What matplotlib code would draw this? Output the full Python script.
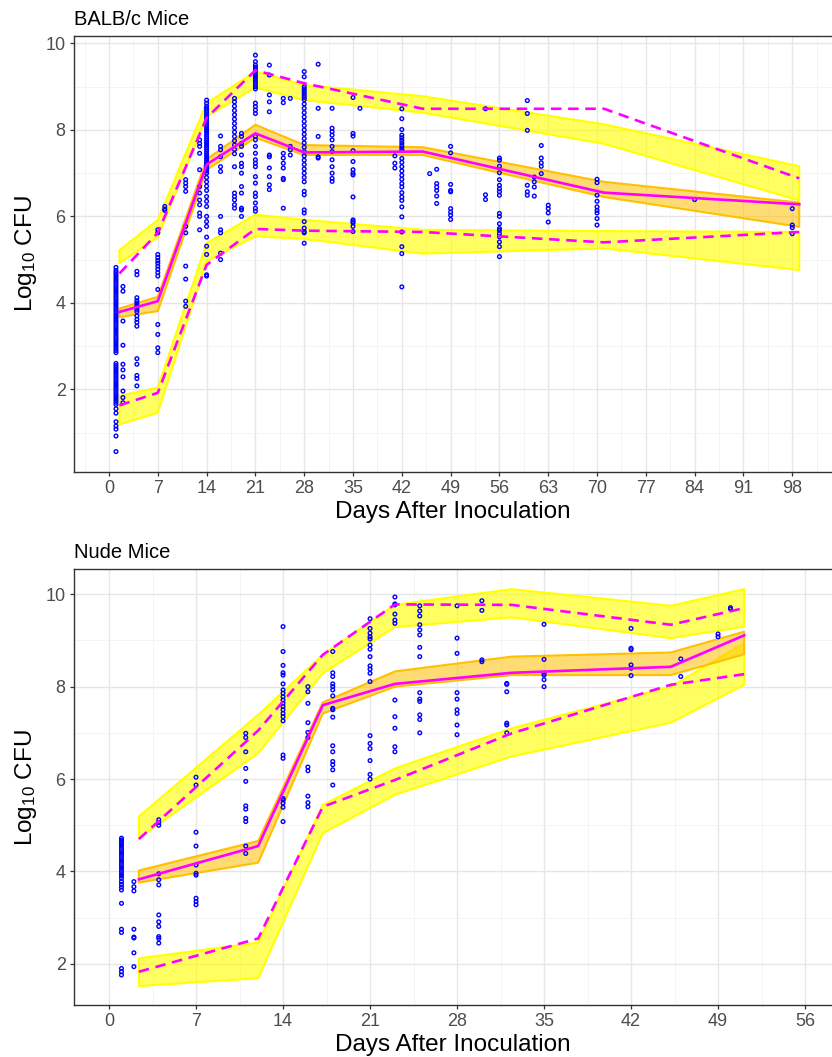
import numpy as np
import matplotlib
matplotlib.use('agg')
import matplotlib.pyplot as plt
from matplotlib.ticker import MultipleLocator

plt.rcParams['font.family'] = ['Liberation Sans', 'DejaVu Sans']
plt.rcParams['mathtext.default'] = 'regular'

# ---------------- BALB/c mice ----------------
balb_t = [1.5, 7, 14, 21, 28, 45, 71, 99]
balb_med = [3.79, 4.04, 7.20, 7.92, 7.48, 7.50, 6.55, 6.28]
balb_med_lo = [3.67, 3.81, 7.08, 7.82, 7.42, 7.42, 6.45, 5.76]
balb_med_hi = [3.87, 4.14, 7.32, 8.12, 7.65, 7.60, 6.80, 6.32]
balb_up_obs = [4.68, 5.62, 8.28, 9.38, 9.08, 8.49, 8.49, 6.88]
balb_up_lo = [4.92, 5.52, 8.31, 8.98, 8.69, 8.40, 7.68, 6.37]
balb_up_hi = [5.22, 5.92, 8.62, 9.35, 9.04, 8.78, 8.13, 7.16]
balb_lo_obs = [1.63, 1.92, 4.88, 5.71, 5.67, 5.64, 5.40, 5.64]
balb_lo_lo = [1.19, 1.46, 4.96, 5.54, 5.48, 5.14, 5.26, 4.76]
balb_lo_hi = [1.85, 2.04, 5.38, 6.04, 5.92, 5.69, 5.66, 5.64]

balb_obs_days = [1, 2, 4, 7, 8, 11, 13, 14, 16, 18, 19, 21, 23, 25, 26, 28, 30, 32,
                 35, 36, 41, 42, 46, 47, 49, 54, 56, 60, 61, 62, 63, 70, 84, 98]
balb_obs_cfu = [
    [4.82, 4.75, 4.70, 4.65, 4.60, 4.55, 4.50, 4.45, 4.40, 4.35, 4.30, 4.25, 4.20, 4.15,
     4.10, 4.05, 4.00, 3.95, 3.90, 3.85, 3.80, 3.75, 3.70, 3.65, 3.60, 3.55, 3.50, 3.45,
     3.40, 3.35, 3.30, 3.25, 3.20, 3.15, 3.10, 3.05, 3.00, 2.95, 2.90, 2.85, 2.60, 2.55,
     2.50, 2.45, 2.40, 2.35, 2.30, 2.25, 2.20, 2.15, 2.10, 2.05, 2.00, 1.95, 1.90, 1.85,
     1.80, 1.75, 1.70, 1.65, 1.55, 1.45, 1.25, 1.15, 1.08, 0.92, 0.56],
    [4.38, 4.27, 3.58, 3.02, 2.58, 2.45, 2.29, 1.96, 1.81, 1.69],
    [4.73, 4.65, 4.12, 4.05, 4.00, 3.95, 3.90, 3.85, 3.80, 3.70, 3.62, 3.55, 3.46,
     2.71, 2.58, 2.32, 2.25, 2.08],
    [5.69, 5.62, 5.12, 5.05, 4.98, 4.92, 4.85, 4.78, 4.70, 4.62, 4.31, 3.50, 3.27, 2.96, 2.85],
    [6.23, 6.17, 6.14],
    [6.85, 6.77, 6.69, 6.58, 5.77, 5.62, 4.85, 4.55, 4.04, 3.92],
    [7.77, 7.69, 7.62, 7.46, 7.08, 6.69, 6.54, 6.38, 6.27, 6.08, 6.00, 5.69],
    [8.69, 8.62, 8.55, 8.50, 8.45, 8.40, 8.35, 8.30, 8.25, 8.20, 8.15, 8.10, 8.05, 8.00,
     7.95, 7.90, 7.85, 7.80, 7.75, 7.70, 7.65, 7.60, 7.55, 7.50, 7.45, 7.40, 7.35, 7.30,
     7.25, 7.20, 7.15, 7.10, 7.05, 7.00, 6.90, 6.80, 6.70, 6.60, 6.46, 6.35, 6.23, 6.00,
     5.88, 5.77, 5.52, 5.31, 5.12, 4.65, 4.62],
    [7.86, 7.62, 7.54, 7.38, 7.15, 7.04, 6.00, 5.69, 5.62, 5.15, 5.00],
    [8.73, 8.65, 8.55, 8.45, 8.35, 8.25, 8.15, 8.05, 7.95, 7.85, 7.75, 7.65, 7.55, 7.45,
     7.15, 6.54, 6.46, 6.38, 6.27, 6.19],
    [7.92, 7.85, 7.69, 7.62, 7.42, 7.23, 7.15, 7.00, 6.69, 6.54, 6.19, 6.15, 6.00],
    [9.73, 9.58, 9.50, 9.45, 9.40, 9.35, 9.30, 9.25, 9.20, 9.15, 9.10, 9.05, 9.00, 8.95,
     8.62, 8.54, 8.46, 8.38, 7.85, 7.77, 7.62, 7.46, 7.31, 7.23, 7.15, 6.92, 6.77, 6.54,
     6.46, 6.31, 6.19, 6.12],
    [9.50, 9.27, 8.81, 8.65, 8.42, 7.42, 7.38, 7.12, 6.92, 6.73, 6.62],
    [8.73, 8.63, 7.46, 7.35, 7.23, 7.12, 6.88, 6.85, 6.19],
    [8.73, 7.62, 7.54, 7.42],
    [9.35, 9.23, 9.00, 8.95, 8.90, 8.85, 8.80, 8.75, 8.70, 8.60, 8.50, 8.40, 8.30, 8.20,
     8.10, 8.00, 7.90, 7.80, 7.70, 7.60, 7.50, 7.40, 7.30, 7.20, 7.10, 7.00, 6.90, 6.80,
     6.58, 6.50, 6.15, 6.08, 5.88, 5.73, 5.65, 5.62, 5.38],
    [9.52, 8.50, 7.85, 7.38, 7.35],
    [8.50, 8.04, 7.96, 7.88, 7.77, 7.62, 7.50, 7.31, 7.15, 7.00, 6.88, 6.81],
    [8.75, 7.92, 7.86, 7.52, 7.27, 7.08, 7.00, 6.96, 6.45, 5.92, 5.88, 5.85, 5.77, 5.65],
    [8.50],
    [7.40, 7.23, 7.12],
    [8.49, 8.26, 8.01, 7.88, 7.82, 7.76, 7.70, 7.64, 7.58, 7.53, 7.34, 7.25, 7.15, 7.05,
     6.95, 6.86, 6.76, 6.68, 6.55, 6.45, 6.37, 6.22, 5.99, 5.64, 5.30, 5.14, 4.37],
    [6.99],
    [7.09, 6.76, 6.68, 6.60, 6.47, 6.30],
    [7.62, 7.47, 6.74, 6.60, 6.57, 6.18, 6.10, 6.03, 5.93],
    [8.49, 6.50, 6.39],
    [7.35, 7.30, 7.16, 7.01, 6.85, 6.72, 6.64, 6.57, 6.49, 6.07, 6.00, 5.83, 5.72, 5.68,
     5.60, 5.53, 5.41, 5.30, 5.07],
    [8.68, 8.38, 7.99, 6.72, 6.57, 6.49],
    [6.91, 6.80, 6.68, 6.47],
    [7.64, 7.35, 7.24, 7.16, 6.99],
    [6.26, 6.18, 6.08, 5.87],
    [6.86, 6.78, 6.49, 6.35, 6.22, 6.14, 6.08, 5.95, 5.80],
    [6.39],
    [6.18, 5.80, 5.74, 5.60],
]

# ---------------- Nude mice ----------------
nude_t = [2.4, 12, 17.2, 23, 32.4, 45.2, 51.1]
nude_med = [3.83, 4.55, 7.60, 8.06, 8.30, 8.43, 9.11]
nude_med_lo = [3.76, 4.19, 7.42, 8.00, 8.25, 8.25, 8.70]
nude_med_hi = [4.02, 4.66, 7.66, 8.33, 8.65, 8.74, 9.19]
nude_up_obs = [4.70, 7.05, 8.69, 9.78, 9.77, 9.34, 9.70]
nude_up_lo = [4.72, 6.56, 8.29, 9.29, 9.50, 9.05, 9.30]
nude_up_hi = [5.19, 7.39, 8.69, 9.77, 10.11, 9.75, 10.11]
nude_lo_obs = [1.83, 2.55, 5.40, 5.98, 6.99, 8.04, 8.27]
nude_lo_lo = [1.52, 1.69, 4.83, 5.66, 6.49, 7.22, 8.04]
nude_lo_hi = [2.12, 2.46, 5.44, 6.23, 7.10, 8.00, 8.94]

nude_obs_days = [1, 2, 4, 7, 11, 14, 16, 18, 21, 23, 25, 28, 30, 32, 35, 42, 46, 49, 50]
nude_obs_cfu = [
    [4.72, 4.68, 4.64, 4.60, 4.55, 4.50, 4.45, 4.40, 4.35, 4.30, 4.25, 4.20, 4.15, 4.10,
     4.05, 4.00, 3.95, 3.90, 3.85, 3.78, 3.72, 3.66, 3.60, 3.31, 2.75, 2.68, 1.90, 1.83, 1.76],
    [3.78, 3.67, 3.58, 2.75, 2.58, 2.56, 2.24, 1.94],
    [5.12, 5.06, 5.00, 3.95, 3.82, 3.71, 3.06, 2.91, 2.81, 2.59, 2.55, 2.45],
    [6.04, 5.87, 4.85, 4.55, 4.14, 3.96, 3.92, 3.42, 3.35, 3.28],
    [6.99, 6.90, 6.59, 6.23, 5.95, 5.42, 5.35, 5.15, 5.08, 4.55, 4.39],
    [9.30, 8.76, 8.46, 8.30, 8.25, 8.06, 7.93, 7.86, 7.78, 7.71, 7.64, 7.57, 7.50, 7.42,
     7.35, 7.26, 6.52, 6.45, 5.58, 5.55, 5.48, 5.39, 5.08],
    [8.00, 7.89, 7.64, 7.22, 7.01, 6.90, 6.26, 6.18, 5.63, 5.49, 5.40],
    [8.76, 8.30, 8.22, 8.06, 8.00, 7.93, 7.80, 7.53, 7.50, 7.34, 6.72, 6.59, 6.38, 6.31,
     6.20, 5.87],
    [9.47, 9.26, 9.16, 9.08, 9.03, 8.90, 8.81, 8.65, 8.45, 8.38, 8.29, 8.11, 6.94, 6.77,
     6.66, 6.40, 6.10, 6.00],
    [9.94, 9.79, 9.77, 9.57, 9.44, 9.37, 7.71, 7.35, 7.10, 6.70, 6.59],
    [9.75, 9.64, 9.53, 9.34, 9.23, 9.12, 8.85, 8.65, 7.87, 7.73, 7.68, 7.39, 7.29, 7.00],
    [9.75, 9.05, 8.72, 7.87, 7.73, 7.50, 7.42, 7.17, 6.96],
    [9.86, 9.65, 8.58, 8.54],
    [8.07, 8.05, 7.89, 7.21, 7.17, 7.00],
    [9.35, 8.59, 8.29, 8.25, 8.15, 8.00],
    [9.26, 8.83, 8.80, 8.47, 8.40, 8.24],
    [8.60, 8.22],
    [9.14, 9.08],
    [9.71, 9.68],
]

panels = [
    dict(title='BALB/c Mice', t=balb_t, med=balb_med, med_lo=balb_med_lo, med_hi=balb_med_hi,
         up_obs=balb_up_obs, up_lo=balb_up_lo, up_hi=balb_up_hi,
         lo_obs=balb_lo_obs, lo_lo=balb_lo_lo, lo_hi=balb_lo_hi,
         days=balb_obs_days, cfu=balb_obs_cfu,
         xlim=(-5.02, 103.7), ylim=(0.095, 10.18), xmax_tick=98,
         rect=[74 / 832, 1 - 471.7 / 1057, 1 - 74 / 832, (471.7 - 35.7) / 1057]),
    dict(title='Nude Mice', t=nude_t, med=nude_med, med_lo=nude_med_lo, med_hi=nude_med_hi,
         up_obs=nude_up_obs, up_lo=nude_up_lo, up_hi=nude_up_hi,
         lo_obs=nude_lo_obs, lo_lo=nude_lo_lo, lo_hi=nude_lo_hi,
         days=nude_obs_days, cfu=nude_obs_cfu,
         xlim=(-2.82, 58.17), ylim=(1.11, 10.54), xmax_tick=56,
         rect=[74 / 832, 1 - 1005 / 1057, 1 - 74 / 832, (1005 - 569.3) / 1057]),
]

fig = plt.figure(figsize=(8.32, 10.57), dpi=100)

for p in panels:
    ax = fig.add_axes(p['rect'])
    ax.set_facecolor('white')

    # prediction intervals
    for lo, hi in [(p['up_lo'], p['up_hi']), (p['lo_lo'], p['lo_hi'])]:
        ax.fill_between(p['t'], lo, hi, facecolor='#FFFF00', alpha=0.62, edgecolor='none', zorder=2)
        ax.fill_between(p['t'], lo, hi, facecolor='none', edgecolor='#FFFF00', linewidth=1.5, zorder=2)
    ax.fill_between(p['t'], p['med_lo'], p['med_hi'], facecolor='#FFC000', alpha=0.55,
                    edgecolor='none', zorder=3)
    ax.fill_between(p['t'], p['med_lo'], p['med_hi'], facecolor='none', edgecolor='#FFC000',
                    linewidth=1.5, zorder=3)

    # observations
    xs, ys = [], []
    for d, vals in zip(p['days'], p['cfu']):
        xs += [d] * len(vals)
        ys += vals
    ax.scatter(xs, ys, s=7, facecolors='none', edgecolors='#0000FF', linewidths=1.0, zorder=4)

    # observed percentiles
    ax.plot(p['t'], p['med'], color='#FF00FF', lw=1.9, zorder=5)
    ax.plot(p['t'], p['up_obs'], color='#FF00FF', lw=1.9, dashes=(4, 2.5), zorder=5)
    ax.plot(p['t'], p['lo_obs'], color='#FF00FF', lw=1.9, dashes=(4, 2.5), zorder=5)

    ax.set_xlim(*p['xlim'])
    ax.set_ylim(*p['ylim'])
    ax.set_xticks(np.arange(0, p['xmax_tick'] + 1, 7))
    ax.set_yticks([2, 4, 6, 8, 10])
    ax.xaxis.set_minor_locator(MultipleLocator(3.5))
    ax.yaxis.set_minor_locator(MultipleLocator(1))
    ax.grid(which='major', color='#E6E6E6', lw=1.0, zorder=0)
    ax.grid(which='minor', color='#F2F2F2', lw=0.6, zorder=0)
    ax.set_axisbelow(True)
    ax.tick_params(which='major', length=3, width=0.9, color='#333333', labelsize=13,
                   labelcolor='#4D4D4D', pad=3)
    ax.tick_params(which='minor', length=0)
    for s in ['left', 'bottom', 'top']:
        ax.spines[s].set_color('#333333')
        ax.spines[s].set_linewidth(1.0)
    ax.spines['right'].set_visible(False)

    ax.set_title(p['title'], loc='left', fontsize=14.5, pad=8)
    ax.set_xlabel('Days After Inoculation', fontsize=17.5, labelpad=2.5)
    ax.set_ylabel('Log$_{10}$ CFU', fontsize=17.5, labelpad=5)

fig.savefig('out.png', dpi=100)
